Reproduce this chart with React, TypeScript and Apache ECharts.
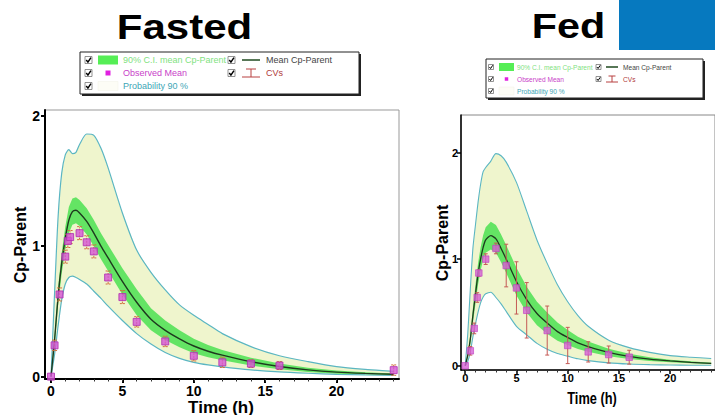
import React, { useEffect, useRef } from 'react';
import * as echarts from 'echarts';

// Time grid for the model curves (h)
const T = [0, 0.25, 0.5, 0.75, 1, 1.25, 1.5, 1.75, 2, 2.5, 3, 3.5, 4, 5, 6, 7, 8, 9, 10, 11, 12, 14, 16, 18, 20, 22, 24];

// ---- Fasted ----
const fastedMean = [0, 0.28, 0.62, 0.87, 1.06, 1.2, 1.265, 1.275, 1.255, 1.19, 1.1, 1.0, 0.91, 0.73, 0.57, 0.44, 0.355, 0.29, 0.235, 0.195, 0.165, 0.115, 0.078, 0.052, 0.035, 0.025, 0.018];
const fastedCiHigh = [0, 0.32, 0.69, 0.95, 1.15, 1.3, 1.365, 1.375, 1.355, 1.29, 1.2, 1.1, 1.01, 0.83, 0.67, 0.525, 0.43, 0.355, 0.29, 0.242, 0.205, 0.145, 0.1, 0.068, 0.047, 0.034, 0.025];
const fastedCiLow = [0, 0.24, 0.55, 0.79, 0.97, 1.1, 1.165, 1.175, 1.155, 1.09, 1.0, 0.9, 0.81, 0.63, 0.47, 0.355, 0.28, 0.225, 0.18, 0.148, 0.125, 0.085, 0.056, 0.036, 0.023, 0.016, 0.011];
const fastedPredHigh = [0, 0.64, 1.23, 1.56, 1.7, 1.74, 1.71, 1.72, 1.78, 1.86, 1.85, 1.75, 1.6, 1.255, 0.97, 0.8, 0.665, 0.55, 0.47, 0.4, 0.33, 0.23, 0.16, 0.115, 0.077, 0.056, 0.041];
const fastedPredLow = [0, 0.17, 0.39, 0.59, 0.71, 0.76, 0.77, 0.76, 0.745, 0.71, 0.655, 0.6, 0.54, 0.43, 0.33, 0.25, 0.185, 0.14, 0.11, 0.09, 0.075, 0.052, 0.036, 0.026, 0.018, 0.013, 0.009];
const fastedObsTime = [0, 0.25, 0.6, 1, 1.18, 1.34, 2, 2.5, 3, 4, 5, 6, 8, 10, 12, 14, 16, 24];
const fastedObsMean = [0, 0.24, 0.63, 0.92, 1.04, 1.07, 1.1, 1.03, 0.96, 0.76, 0.61, 0.42, 0.27, 0.16, 0.11, 0.1, 0.085, 0.05];
const fastedObsErr = [0, 0.04, 0.05, 0.05, 0.05, 0.05, 0.05, 0.05, 0.05, 0.05, 0.05, 0.04, 0.04, 0.04, 0.04, 0.03, 0.03, 0.04];

// ---- Fed ----
const fedMean = [0, 0.1, 0.25, 0.47, 0.67, 0.86, 1.0, 1.11, 1.18, 1.22, 1.19, 1.1, 1.0, 0.79, 0.62, 0.49, 0.4, 0.32, 0.265, 0.215, 0.18, 0.125, 0.088, 0.062, 0.045, 0.032, 0.022];
const fedCiHigh = [0, 0.12, 0.29, 0.54, 0.76, 0.96, 1.11, 1.225, 1.3, 1.35, 1.32, 1.23, 1.13, 0.92, 0.74, 0.6, 0.5, 0.405, 0.335, 0.273, 0.228, 0.16, 0.113, 0.079, 0.057, 0.041, 0.028];
const fedCiLow = [0, 0.08, 0.21, 0.4, 0.58, 0.76, 0.89, 0.995, 1.06, 1.09, 1.06, 0.97, 0.87, 0.66, 0.5, 0.38, 0.3, 0.235, 0.195, 0.157, 0.132, 0.09, 0.063, 0.045, 0.033, 0.023, 0.016];
const fedPredHigh = [0, 0.3, 0.72, 1.1, 1.32, 1.53, 1.7, 1.82, 1.86, 1.92, 1.99, 1.97, 1.91, 1.72, 1.45, 1.18, 0.96, 0.76, 0.6, 0.47, 0.37, 0.24, 0.17, 0.125, 0.095, 0.08, 0.068];
const fedPredLow = [0, 0.04, 0.13, 0.27, 0.39, 0.5, 0.59, 0.645, 0.675, 0.69, 0.64, 0.58, 0.51, 0.37, 0.29, 0.21, 0.155, 0.115, 0.09, 0.065, 0.048, 0.027, 0.016, 0.01, 0.007, 0.005, 0.004];
const fedObsTime = [0, 0.5, 0.88, 1.17, 1.33, 2, 3, 4, 5, 6, 8, 10, 12, 14, 16];
const fedObsMean = [0, 0.14, 0.35, 0.64, 0.87, 1.0, 1.1, 0.94, 0.73, 0.52, 0.33, 0.19, 0.13, 0.105, 0.08];
const fedObsErr = [0, 0.04, 0.05, 0.045, 0.03, 0.05, 0.05, 0.2, 0.245, 0.26, 0.23, 0.17, 0.095, 0.08, 0.065];

// ---- Ticks / texts ----
const X_MAJOR = [0, 5, 10, 15, 20];
const X_MINOR = [0, 1, 2, 3, 4, 5, 6, 7, 8, 9, 10, 11, 12, 13, 14, 15, 16, 17, 18, 19, 20, 21, 22, 23, 24];
const Y_TICKS = [0, 1, 2];
const LEGEND_TEXTS = ['90% C.I. mean Cp-Parent', 'Observed Mean', 'Probability 90 %', 'Mean Cp-Parent', 'CVs'];

const FONT = "'Liberation Sans', Arial, sans-serif";
const PRED_FILL = '#eff5cd';
const CI_FILL = '#64e464';
const TEAL = '#5bb6c2';
const MEAN_COLOR = '#1e3a1e';
const MAGENTA = '#d455d4';

const pairs = (xs: number[], ys: number[]) => xs.map((x, i) => [x, ys[i]]);

function band(xi: number, yi: number, xs: number[], lo: number[], hi: number[], fill: string, z: number) {
  return {
    type: 'custom',
    xAxisIndex: xi,
    yAxisIndex: yi,
    z,
    silent: true,
    data: [[1, 1]],
    renderItem: (_p: any, api: any) => {
      const top = xs.map((x, i) => api.coord([x, hi[i]]));
      const bottom = xs.map((x, i) => api.coord([x, lo[i]])).reverse();
      return { type: 'polygon', shape: { points: top.concat(bottom) }, style: { fill } };
    },
  };
}

function errorBars(xi: number, yi: number, xs: number[], vals: number[], errs: number[], color: string, cap: number, dash: any) {
  return {
    type: 'custom',
    xAxisIndex: xi,
    yAxisIndex: yi,
    z: 6,
    silent: true,
    data: xs.map((x, i) => [x, vals[i] - errs[i], vals[i] + errs[i]]),
    encode: { x: 0, y: [1, 2] },
    renderItem: (_p: any, api: any) => {
      const x = api.value(0);
      const lo = api.coord([x, api.value(1)]);
      const hi = api.coord([x, api.value(2)]);
      if (Math.abs(hi[1] - lo[1]) < 1) return { type: 'group', children: [] };
      const st = { stroke: color, lineWidth: 1, lineDash: dash };
      return {
        type: 'group',
        children: [
          { type: 'line', shape: { x1: lo[0], y1: lo[1], x2: hi[0], y2: hi[1] }, style: st },
          { type: 'line', shape: { x1: lo[0] - cap, y1: lo[1], x2: lo[0] + cap, y2: lo[1] }, style: st },
          { type: 'line', shape: { x1: hi[0] - cap, y1: hi[1], x2: hi[0] + cap, y2: hi[1] }, style: st },
        ],
      };
    },
  };
}

function line(xi: number, yi: number, xs: number[], ys: number[], color: string, width: number, z: number) {
  return {
    type: 'line',
    xAxisIndex: xi,
    yAxisIndex: yi,
    z,
    silent: true,
    smooth: 0.25,
    showSymbol: false,
    symbol: 'none',
    lineStyle: { color, width },
    data: pairs(xs, ys),
  };
}

function majorX(grid: number, min: number, max: number, fontSize: number, lw: number, margin: number) {
  return {
    type: 'value', gridIndex: grid, position: 'bottom', min, max,
    axisLine: { show: true, onZero: false, lineStyle: { color: '#000', width: lw } },
    axisTick: { show: true, customValues: X_MAJOR, length: 4, lineStyle: { color: '#000', width: lw } },
    axisLabel: { show: true, customValues: X_MAJOR, margin, color: '#000', fontWeight: 'bold', fontSize, fontFamily: FONT },
    splitLine: { show: false },
  };
}
function minorX(grid: number, min: number, max: number) {
  return {
    type: 'value', gridIndex: grid, position: 'bottom', min, max,
    axisLine: { show: false, onZero: false },
    axisTick: { show: true, customValues: X_MINOR, length: 2.5, lineStyle: { color: '#333', width: 1 } },
    axisLabel: { show: false },
    splitLine: { show: false },
  };
}
function yAx(grid: number, min: number, max: number, fontSize: number, lw: number, margin: number) {
  return {
    type: 'value', gridIndex: grid, min, max,
    axisLine: { show: true, onZero: false, lineStyle: { color: '#000', width: lw } },
    axisTick: { show: true, customValues: Y_TICKS, length: 4, lineStyle: { color: '#000', width: lw } },
    axisLabel: { show: true, customValues: Y_TICKS, margin, color: '#000', fontWeight: 'bold', fontSize, fontFamily: FONT },
    splitLine: { show: false },
  };
}

function txt(x: number, y: number, text: string, font: string, fill: string, align = 'left', rotation = 0, scaleX = 1) {
  return {
    type: 'text', x, y, rotation, scaleX, silent: true,
    style: { text, font, fill, textAlign: align, textVerticalAlign: 'middle', align, verticalAlign: 'middle' },
  };
}

function checkbox(x: number, yc: number, s: number) {
  const y = yc - s / 2;
  return [
    { type: 'rect', silent: true, shape: { x, y, width: s, height: s }, style: { fill: '#fff', stroke: '#777', lineWidth: 0.8 } },
    {
      type: 'polyline', silent: true,
      shape: { points: [[x + s * 0.18, y + s * 0.5], [x + s * 0.42, y + s * 0.8], [x + s * 0.85, y + s * 0.15]] },
      style: { stroke: '#000', lineWidth: s > 6 ? 1.5 : 1, fill: null },
    },
  ];
}

function legend(o: any) {
  const els: any[] = [];
  els.push({ type: 'rect', silent: true, shape: { x: o.x + 2, y: o.y + 2, width: o.w, height: o.h }, style: { fill: '#222' } });
  els.push({ type: 'rect', silent: true, shape: { x: o.x, y: o.y, width: o.w, height: o.h }, style: { fill: '#fff', stroke: '#222', lineWidth: 1 } });
  const f = `${o.fs}px ${FONT}`;
  o.rows.forEach((yc: number) => els.push(...checkbox(o.cb1, yc, o.cbs)));
  els.push(...checkbox(o.cb2, o.rows[0], o.cbs));
  els.push(...checkbox(o.cb2, o.rows[1], o.cbs));
  // swatches
  els.push({ type: 'rect', silent: true, shape: { x: o.swX, y: o.rows[0] - o.swH / 2, width: o.swW, height: o.swH }, style: { fill: '#55ee55' } });
  els.push({ type: 'rect', silent: true, shape: { x: o.swX + o.swW / 2 - o.sq / 2, y: o.rows[1] - o.sq / 2, width: o.sq, height: o.sq }, style: { fill: '#e020e0' } });
  els.push({ type: 'rect', silent: true, shape: { x: o.swX, y: o.rows[2] - o.swH / 2, width: o.swW, height: o.swH }, style: { fill: '#fdfdf6', stroke: '#f2f2e6', lineWidth: 0.5 } });
  els.push(txt(o.tx1, o.rows[0], LEGEND_TEXTS[0], f, '#7fe27f'));
  els.push(txt(o.tx1, o.rows[1], LEGEND_TEXTS[1], f, '#c93fc9'));
  els.push(txt(o.tx1, o.rows[2], LEGEND_TEXTS[2], f, '#3ea6b6'));
  // mean line icon
  els.push({ type: 'line', silent: true, shape: { x1: o.lx1, y1: o.rows[0], x2: o.lx2, y2: o.rows[0] }, style: { stroke: '#1f4a1f', lineWidth: 1.5 } });
  els.push(txt(o.tx2, o.rows[0], LEGEND_TEXTS[3], f, '#444'));
  // CV icon
  const yc = o.rows[1];
  const hh = o.cvh;
  const mid = (o.lx1 + o.lx2) / 2;
  const red = '#b84040';
  els.push({ type: 'line', silent: true, shape: { x1: mid - o.cvTop, y1: yc - hh, x2: mid + o.cvTop, y2: yc - hh }, style: { stroke: red, lineWidth: 1 } });
  els.push({ type: 'line', silent: true, shape: { x1: mid, y1: yc - hh, x2: mid, y2: yc + hh }, style: { stroke: red, lineWidth: 1 } });
  els.push({ type: 'line', silent: true, shape: { x1: o.lx1, y1: yc + hh, x2: o.lx2, y2: yc + hh }, style: { stroke: red, lineWidth: 1 } });
  els.push(txt(o.tx2, o.rows[1], LEGEND_TEXTS[4], f, '#b03a3a'));
  return els;
}

export default function App() {
  const ref = useRef<HTMLDivElement>(null);
  useEffect(() => {
    if (!ref.current) return;
    const chart = echarts.init(ref.current, null, { renderer: 'svg' });
    const boldTitle = `bold 35px ${FONT}`;
    const option: any = {
      animation: false,
      backgroundColor: '#fff',
      grid: [
        { left: 45, top: 110, width: 354, height: 269, show: true, borderColor: '#999', borderWidth: 1 },
        { left: 461, top: 115, width: 262, height: 255, show: true, borderColor: '#888', borderWidth: 1 },
      ],
      xAxis: [
        majorX(0, -0.42, 24.37, 14, 2, 5),
        minorX(0, -0.42, 24.37),
        majorX(1, -0.41, 24.37, 11, 1.5, 2),
        minorX(1, -0.41, 24.37),
      ],
      yAxis: [yAx(0, -0.018, 2.044, 14, 2, 5), yAx(1, -0.04, 2.352, 11, 1.5, 3)],
      series: [
        band(0, 0, T, fastedPredLow, fastedPredHigh, PRED_FILL, 1),
        band(0, 0, T, fastedCiLow, fastedCiHigh, CI_FILL, 2),
        line(0, 0, T, fastedPredHigh, TEAL, 1.2, 3),
        line(0, 0, T, fastedPredLow, TEAL, 1.2, 3),
        line(0, 0, T, fastedMean, MEAN_COLOR, 1.4, 4),
        errorBars(0, 0, fastedObsTime, fastedObsMean, fastedObsErr, '#d0703c', 2.5, [2, 1]),
        {
          type: 'scatter', xAxisIndex: 0, yAxisIndex: 0, z: 7, silent: true,
          symbol: 'rect', symbolSize: 7,
          itemStyle: { color: MAGENTA, borderColor: '#b02cb0', borderWidth: 1 },
          data: pairs(fastedObsTime, fastedObsMean),
        },
        band(2, 1, T, fedPredLow, fedPredHigh, PRED_FILL, 1),
        band(2, 1, T, fedCiLow, fedCiHigh, CI_FILL, 2),
        line(2, 1, T, fedPredHigh, TEAL, 1.1, 3),
        line(2, 1, T, fedPredLow, TEAL, 1.1, 3),
        line(2, 1, T, fedMean, MEAN_COLOR, 1.3, 4),
        errorBars(2, 1, fedObsTime, fedObsMean, fedObsErr, '#c45a55', 2, null),
        {
          type: 'scatter', xAxisIndex: 2, yAxisIndex: 1, z: 7, silent: true,
          symbol: 'rect', symbolSize: 6.5,
          itemStyle: { color: '#d660d6', borderColor: '#c040c0', borderWidth: 0.8 },
          data: pairs(fedObsTime, fedObsMean),
        },
      ],
      graphic: [
        { type: 'rect', silent: true, shape: { x: 619, y: 0, width: 96, height: 50 }, style: { fill: '#0679bf' } },
        txt(184.5, 27, 'Fasted', boldTitle, '#000', 'center', 0, 1.2),
        txt(568.5, 26, 'Fed', boldTitle, '#000', 'center', 0, 1.18),
        txt(221, 407, 'Time (h)', `bold 17px ${FONT}`, '#000', 'center'),
        txt(20, 245, 'Cp-Parent', `bold 16px ${FONT}`, '#000', 'center', Math.PI / 2),
        txt(592, 398, 'Time (h)', `bold 16px ${FONT}`, '#000', 'center', 0, 0.8),
        txt(442, 243, 'Cp-Parent', `bold 16px ${FONT}`, '#000', 'center', Math.PI / 2),
        ...legend({
          x: 80, y: 52, w: 279, h: 42, rows: [60, 73, 86], cb1: 85, cb2: 228, cbs: 7,
          swX: 98, swW: 20, swH: 9, sq: 5, tx1: 123, tx2: 266, lx1: 242, lx2: 260, fs: 9, cvh: 4, cvTop: 5,
        }),
        ...legend({
          x: 486, y: 59, w: 217, h: 39, rows: [67, 79, 91], cb1: 488.5, cb2: 596, cbs: 5,
          swX: 499, swW: 15, swH: 8, sq: 3.5, tx1: 517, tx2: 623, lx1: 606, lx2: 618, fs: 6.6, cvh: 3, cvTop: 3.5,
        }),
      ],
    };
    chart.setOption(option);
    return () => chart.dispose();
  }, []);
  return <div ref={ref} style={{ position: 'fixed', left: 0, top: 0, width: 715, height: 415, background: '#fff' }} />;
}
